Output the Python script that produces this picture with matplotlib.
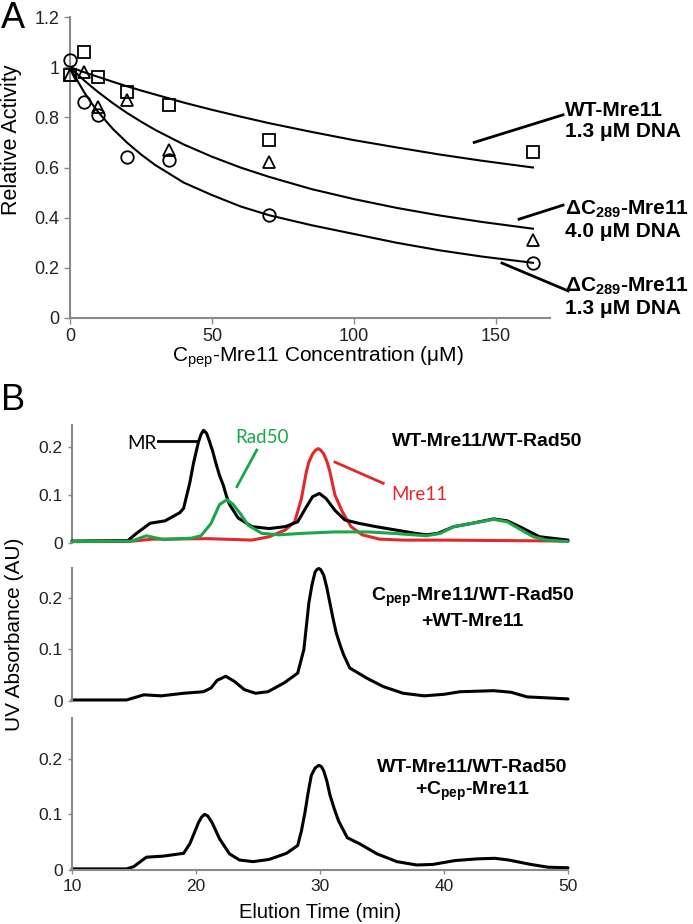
import matplotlib
matplotlib.use("Agg")
import matplotlib.pyplot as plt

plt.rcParams["font.family"] = ["Liberation Sans", "DejaVu Sans"]
plt.rcParams["mathtext.default"] = "regular"

# ---- panel A data ----
conc = [0, 5, 10, 20, 35, 70, 163]
wt_13 = [0.97, 1.06, 0.96, 0.90, 0.85, 0.71, 0.66]
dc_40 = [0.97, 0.98, 0.84, 0.87, 0.67, 0.62, 0.31]
dc_13 = [1.03, 0.86, 0.81, 0.64, 0.63, 0.41, 0.22]

fit_x = [0, 2.5, 5, 7.5, 10, 15, 20, 25, 30, 40, 50, 60, 70, 85, 100, 115, 130, 145, 163]
fit_wt_13 = [1.0, 0.99, 0.98, 0.97, 0.961, 0.942, 0.924, 0.907, 0.891, 0.859,
             0.83, 0.803, 0.777, 0.742, 0.709, 0.68, 0.652, 0.627, 0.60]
fit_dc_40 = [1.0, 0.973, 0.947, 0.923, 0.90, 0.857, 0.818, 0.783, 0.75, 0.692,
             0.643, 0.60, 0.563, 0.514, 0.474, 0.439, 0.409, 0.383, 0.356]
fit_dc_13 = [1.0, 0.948, 0.90, 0.858, 0.82, 0.755, 0.70, 0.652, 0.61, 0.54,
             0.49, 0.445, 0.41, 0.37, 0.335, 0.30, 0.27, 0.245, 0.22]

# ---- panel B data (elution time, min / absorbance, AU) ----
t_mr = [10, 14.5, 15.2, 16.3, 17.5, 18.7, 19.0, 19.5, 19.8, 20.2, 20.4, 20.6, 20.85,
        21.1, 21.35, 21.6, 21.9, 22.2, 22.45, 22.7, 23.4, 24.5, 25.9, 27.2, 28.2,
        28.9, 29.4, 29.95, 30.5, 31.2, 32.0, 33.1, 34.5, 36.1, 37.7, 38.6, 39.5,
        40.8, 42.1, 44.0, 45.1, 46.1, 47.7, 50]
a_mr = [0.004, 0.005, 0.02, 0.041, 0.046, 0.063, 0.072, 0.125, 0.166, 0.21, 0.225,
        0.234, 0.228, 0.21, 0.19, 0.166, 0.14, 0.12, 0.098, 0.08, 0.052, 0.034,
        0.03, 0.034, 0.044, 0.075, 0.096, 0.103, 0.092, 0.068, 0.048, 0.041,
        0.034, 0.027, 0.02, 0.017, 0.02, 0.034, 0.04, 0.05, 0.046, 0.034, 0.013,
        0.006]

t_rad50 = [10, 14.8, 16.0, 17.4, 19.6, 20.4, 21.2, 21.9, 22.5, 23.0, 23.6, 24.2,
           25.3, 26.7, 28.5, 31.2, 33.9, 35.9, 38.6, 39.7, 40.8, 42.1, 44.0, 45.1,
           46.1, 47.2, 48.3, 50]
a_rad50 = [0.003, 0.004, 0.015, 0.007, 0.01, 0.015, 0.04, 0.08, 0.09, 0.08, 0.06,
           0.037, 0.02, 0.017, 0.02, 0.023, 0.023, 0.02, 0.015, 0.02, 0.034, 0.04,
           0.049, 0.044, 0.029, 0.013, 0.006, 0.003]

t_mre11 = [10, 14.5, 16.5, 21.0, 24.5, 25.9, 27.2, 27.96, 28.5, 28.9, 29.1, 29.4,
           29.65, 29.85, 30.05, 30.3, 30.55, 30.8, 31.2, 31.8, 32.5, 33.4, 34.8,
           36.7, 40, 50]
a_mre11 = [0.003, 0.003, 0.008, 0.009, 0.006, 0.013, 0.027, 0.044, 0.092, 0.148,
           0.168, 0.185, 0.193, 0.196, 0.193, 0.185, 0.17, 0.148, 0.10, 0.065,
           0.034, 0.017, 0.008, 0.006, 0.006, 0.004]

t_cpep = [10, 14.4, 15.8, 17.2, 19.0, 20.6, 21.2, 21.7, 22.4, 23.1, 23.9, 24.8,
          25.8, 27.1, 28.2, 28.7, 28.9, 29.1, 29.35, 29.6, 29.75, 29.9, 30.05, 30.3,
          30.55, 30.8, 31.05, 31.3, 31.6, 31.9, 32.4, 33.8, 35.1, 36.7, 38.4, 40.0,
          41.3, 44.0, 45.4, 46.7, 50]
a_cpep = [0.002, 0.002, 0.012, 0.01, 0.015, 0.018, 0.025, 0.04, 0.048, 0.038,
          0.022, 0.015, 0.018, 0.035, 0.054, 0.10, 0.145, 0.19, 0.225, 0.25, 0.255,
          0.257, 0.255, 0.244, 0.22, 0.19, 0.16, 0.133, 0.11, 0.09, 0.064, 0.044,
          0.028, 0.015, 0.01, 0.013, 0.018, 0.02, 0.017, 0.008, 0.004]

t_add = [10, 14.4, 14.97, 16.0, 17.4, 19.0, 19.5, 20.2, 20.45, 20.7, 20.95, 21.3,
         21.9, 22.7, 23.5, 24.6, 25.9, 27.3, 28.2, 28.5, 28.8, 29.05, 29.3, 29.6,
         29.9, 30.1, 30.3, 30.55, 30.8, 31.15, 31.5, 32.2, 33.2, 34.6, 36.2, 37.8,
         39.1, 40.9, 42.7, 44.1, 45.2, 47.0, 48.4, 50]
a_add = [0.002, 0.002, 0.006, 0.023, 0.025, 0.03, 0.047, 0.085, 0.095, 0.10,
         0.097, 0.085, 0.056, 0.029, 0.018, 0.015, 0.019, 0.03, 0.044, 0.07, 0.105,
         0.14, 0.17, 0.183, 0.188, 0.186, 0.178, 0.16, 0.135, 0.11, 0.088, 0.058,
         0.047, 0.029, 0.015, 0.009, 0.01, 0.017, 0.02, 0.021, 0.018, 0.01, 0.005,
         0.004]

GRAY = "#8a8a8a"
GREEN = "#1aa64a"
RED = "#e3282b"
W, H = 693, 924


def box(left, top, right, bottom):
    return [left / W, 1 - bottom / H, (right - left) / W, (bottom - top) / H]


def style_axis(ax, bottom_spine):
    for s in ["top", "right"]:
        ax.spines[s].set_visible(False)
    ax.spines["left"].set_color(GRAY)
    ax.spines["left"].set_linewidth(1.5)
    if bottom_spine:
        ax.spines["bottom"].set_color(GRAY)
        ax.spines["bottom"].set_linewidth(1.5)
    else:
        ax.spines["bottom"].set_visible(False)
    ax.tick_params(direction="out", length=4, width=1, color=GRAY, labelcolor="#222222")


fig = plt.figure(figsize=(6.93, 9.24), dpi=100)

# ---- panel A ----
ax = fig.add_axes(box(70, 17, 550, 318))
style_axis(ax, True)
ax.plot(fit_x, fit_wt_13, color="k", lw=1.5)
ax.plot(fit_x, fit_dc_40, color="k", lw=1.5)
ax.plot(fit_x, fit_dc_13, color="k", lw=1.5)
mk = dict(ls="none", mfc="none", mec="k", mew=1.3, ms=9, clip_on=False, zorder=3)
ax.plot(conc, wt_13, marker="s", **mk)
ax.plot(conc, dc_40, marker="^", **mk)
ax.plot(conc, dc_13, marker="o", **mk)
ax.set_xlim(0, 169)
ax.set_ylim(0, 1.2)
ax.set_xticks([0, 50, 100, 150])
ax.set_yticks([0, 0.2, 0.4, 0.6, 0.8, 1.0, 1.2])
ax.set_yticklabels(["0", "0.2", "0.4", "0.6", "0.8", "1", "1.2"])
ax.tick_params(labelsize=13)

lab = dict(fontsize=15, fontweight="bold", ha="left", va="center",
           linespacing=1.15, clip_on=False)
ax.text(174.3, 0.785, "WT-Mre11\n1.3 μM DNA", **lab)
ax.text(174.3, 0.39, "ΔC$_{289}$-Mre11\n4.0 μM DNA", **lab)
ax.text(174.3, 0.085, "ΔC$_{289}$-Mre11\n1.3 μM DNA", **lab)
ax.plot([142.3, 173.6], [0.70, 0.81], color="k", lw=2, clip_on=False)
ax.plot([158.1, 173.6], [0.394, 0.45], color="k", lw=2, clip_on=False)
ax.plot([152.1, 175.4], [0.219, 0.108], color="k", lw=2, clip_on=False)

fig.text(12 / W, 1 - 140 / H, "Relative Activity", rotation=90, fontsize=15.5,
         ha="center", va="center")
fig.text(318 / W, 1 - 357 / H, "C$_{pep}$-Mre11 Concentration (μM)", fontsize=15,
         ha="center", va="center")
fig.text(1 / W, 1 - 19 / H, "A", fontsize=26, ha="left", va="center")
fig.text(1 / W, 1 - 401 / H, "B", fontsize=26, ha="left", va="center")

# ---- panel B ----
ax1 = fig.add_axes(box(72, 425, 568, 543))
ax2 = fig.add_axes(box(72, 568, 568, 701))
ax3 = fig.add_axes(box(72, 718, 568, 870))
for a, top in [(ax1, 0.245), (ax2, 0.258), (ax3, 0.273)]:
    style_axis(a, a is ax3)
    a.set_xlim(10, 50)
    a.set_ylim(0, top)
    a.set_yticks([0, 0.1, 0.2])
    a.set_yticklabels(["0", "0.1", "0.2"])
    a.tick_params(labelsize=12.5, length=3)
    if a is not ax3:
        a.set_xticks([])
ax3.set_xticks([10, 20, 30, 40, 50])

line = dict(lw=2.2, clip_on=False, solid_capstyle="round", solid_joinstyle="round")
ax1.plot(t_mr, a_mr, color="k", zorder=3, **line)
ax1.plot(t_mre11, a_mre11, color=RED, zorder=2, **line)
ax1.plot(t_rad50, a_rad50, color=GREEN, zorder=4, **line)
ax2.plot(t_cpep, a_cpep, color="k", **line)
ax3.plot(t_add, a_add, color="k", **line)

ax1.text(15.6, 0.207, "MR", fontsize=13.5, family="Lato", ha="center", va="center")
ax1.plot([16.9, 20.1], [0.212, 0.212], color="k", lw=2)
ax1.text(25.3, 0.22, "Rad50", fontsize=13.5, family="Lato", color=GREEN,
         ha="center", va="center")
ax1.plot([24.9, 23.3], [0.193, 0.117], color=GREEN, lw=2)
ax1.text(38.0, 0.10, "Mre11", fontsize=13.5, family="Lato", color=RED,
         ha="center", va="center")
ax1.plot([31.2, 35.1], [0.168, 0.124], color=RED, lw=2)

tl = dict(fontsize=14, fontweight="bold", ha="center", va="center",
          linespacing=1.3, clip_on=False)
ax1.text(43.5, 0.21, "WT-Mre11/WT-Rad50", **tl)
ax2.text(42.3, 0.18, "C$_{pep}$-Mre11/WT-Rad50\n+WT-Mre11", **tl)
ax3.text(42.3, 0.16, "WT-Mre11/WT-Rad50\n+C$_{pep}$-Mre11", **tl)

fig.text(15 / W, 1 - 634 / H, "UV Absorbance (AU)", rotation=90, fontsize=15,
         ha="center", va="center")
fig.text(320 / W, 1 - 913 / H, "Elution Time (min)", fontsize=14.5,
         ha="center", va="center")

fig.savefig("out.png", dpi=100)
